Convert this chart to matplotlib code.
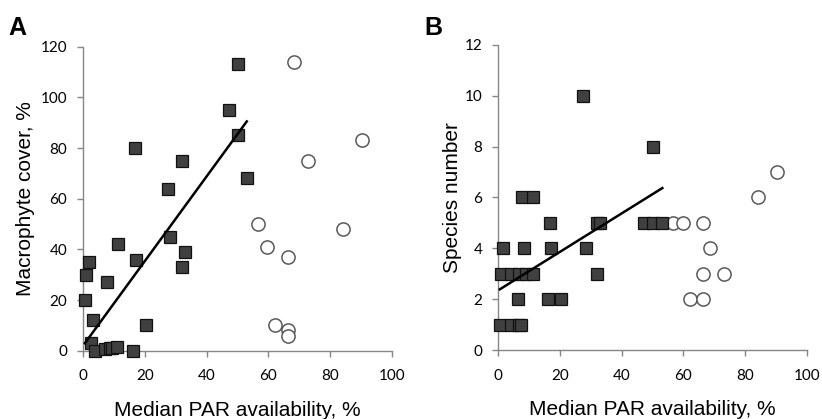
import matplotlib
matplotlib.use("Agg")
import matplotlib.pyplot as plt
import numpy as np

# ---------------- data ----------------
# Panel A: macrophyte cover vs median PAR availability
a_sq_x = [50.3, 47.3, 50.3, 53.0, 16.8, 32.0, 27.5, 28.2, 33.0, 32.0, 11.4, 17.0,
          1.9, 0.8, 7.8, 0.5, 3.0, 20.2, 2.4, 3.9, 6.9, 8.6, 9.4, 11.0, 16.1]
a_sq_y = [113, 95, 85, 68, 80, 75, 64, 45, 39, 33, 42, 36,
          35, 30, 27, 20, 12, 10, 3, 0, 0.5, 1, 1, 1.5, 0]
a_ci_x = [68.4, 90.5, 73.0, 56.6, 84.2, 59.7, 66.4, 62.0, 66.4, 66.4]
a_ci_y = [114, 83, 75, 50, 48, 41, 37, 10, 8, 6]
a_fit = (1.668, 2.1)   # slope, intercept

# Panel B: species number vs median PAR availability
b_sq_x = [27.6, 50.3, 7.8, 11.4, 16.8, 31.9, 33.0, 47.3, 50.3, 53.2,
          1.6, 8.4, 17.1, 28.4, 0.8, 4.0, 6.7, 8.9, 11.3, 31.9,
          6.3, 16.1, 20.2, 0.5, 4.1, 6.7, 7.5]
b_sq_y = [10, 8, 6, 6, 5, 5, 5, 5, 5, 5,
          4, 4, 4, 4, 3, 3, 3, 3, 3, 3,
          2, 2, 2, 1, 1, 1, 1]
b_ci_x = [90.5, 84.2, 56.6, 59.8, 66.3, 68.6, 66.3, 73.1, 62.0, 66.3]
b_ci_y = [7, 6, 5, 5, 5, 4, 3, 3, 2, 2]
b_fit = (0.0756, 2.35)

x_ticks = [0, 20, 40, 60, 80, 100]
a_yticks = [0, 20, 40, 60, 80, 100, 120]
b_yticks = [0, 2, 4, 6, 8, 10, 12]

xlabel = "Median PAR availability, %"
a_ylabel = "Macrophyte cover, %"
b_ylabel = "Species number"

# ---------------- figure ----------------
W, H = 822, 419
fig = plt.figure(figsize=(W / 100, H / 100), dpi=100)

axA = fig.add_axes([83.3 / W, (H - 350.7) / H, 308.4 / W, 304.0 / H])
axB = fig.add_axes([498.3 / W, (H - 350.0) / H, 308.4 / W, 305.0 / H])

spine_col = "#868686"
label_font = ["Liberation Sans", "DejaVu Sans"]
tick_font = ["Lato", "DejaVu Sans"]


def style(ax, ylim, yticks, ylabel, ylab_x):
    ax.set_xlim(0, 100)
    ax.set_ylim(*ylim)
    ax.set_xticks(x_ticks)
    ax.set_yticks(yticks)
    for s in ("top", "right"):
        ax.spines[s].set_visible(False)
    for s in ("left", "bottom"):
        ax.spines[s].set_color(spine_col)
        ax.spines[s].set_linewidth(1.0)
    ax.tick_params(direction="out", length=4.5, width=1.0, color=spine_col,
                   labelsize=11, labelcolor="black")
    ax.tick_params(axis="x", pad=9)
    ax.tick_params(axis="y", pad=7)
    for lab in ax.get_xticklabels() + ax.get_yticklabels():
        lab.set_family(tick_font)
    ax.set_xlabel(xlabel, fontsize=15, family=label_font)
    ax.xaxis.set_label_coords(0.5, -0.165)
    ax.set_ylabel(ylabel, fontsize=15, family=label_font)
    ax.yaxis.set_label_coords(ylab_x, 0.5)


def draw(ax, sx, sy, cx, cy, fit):
    ax.plot(cx, cy, linestyle="none", marker="o", markersize=9.5,
            markerfacecolor="white", markeredgecolor="#595959",
            markeredgewidth=1.1, clip_on=False, zorder=3)
    ax.plot(sx, sy, linestyle="none", marker="s", markersize=8.6,
            markerfacecolor="#404040", markeredgecolor="#111111",
            markeredgewidth=0.9, clip_on=False, zorder=4)
    xs = np.array([min(sx), max(sx)])
    ax.plot(xs, fit[0] * xs + fit[1], color="black", linewidth=1.8, zorder=5)


draw(axA, a_sq_x, a_sq_y, a_ci_x, a_ci_y, a_fit)
draw(axB, b_sq_x, b_sq_y, b_ci_x, b_ci_y, b_fit)
style(axA, (0, 120), a_yticks, a_ylabel, -0.157)
style(axB, (0, 12), b_yticks, b_ylabel, -0.118)

fig.text(8 / W, 1 - 35 / H, "A", fontsize=18, fontweight="bold",
         family=label_font, ha="left", va="baseline")
fig.text(424 / W, 1 - 35 / H, "B", fontsize=18, fontweight="bold",
         family=label_font, ha="left", va="baseline")

fig.savefig("out.png", dpi=100)
